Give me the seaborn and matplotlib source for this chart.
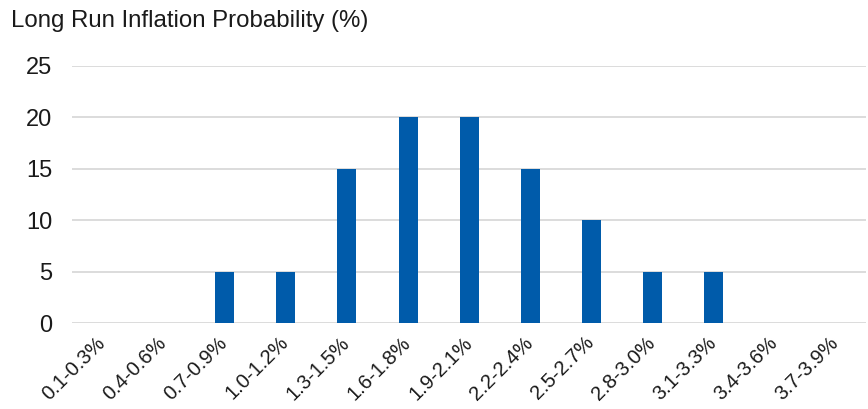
import pandas as pd
import numpy as np
import matplotlib
matplotlib.use("Agg")
import matplotlib.pyplot as plt
import seaborn as sns

# inflation buckets and probabilities
buckets = ["0.1-0.3%", "0.4-0.6%", "0.7-0.9%", "1.0-1.2%", "1.3-1.5%", "1.6-1.8%",
           "1.9-2.1%", "2.2-2.4%", "2.5-2.7%", "2.8-3.0%", "3.1-3.3%", "3.4-3.6%", "3.7-3.9%"]
probability = [0, 0, 5, 5, 15, 20, 20, 15, 10, 5, 5, 0, 0]
yticks = [0, 5, 10, 15, 20, 25]

df = pd.DataFrame({"Bucket": buckets, "Probability": probability})

sns.set_style("white")
plt.rcParams['font.family'] = ['Liberation Sans', 'DejaVu Sans']

fig = plt.figure(figsize=(8.68, 4.09), dpi=100)
ax = fig.add_axes([0.083, 0.21, 0.915, 0.629])

sns.barplot(data=df, x="Bucket", y="Probability", color="#005BAA", width=0.31,
            saturation=1, linewidth=0, ax=ax, zorder=3)

ax.set_ylim(0, 25)
ax.set_yticks(yticks)
ax.yaxis.grid(True, color="#d9d9d9", linewidth=1.3, zorder=0)
ax.set_axisbelow(True)
for s in ax.spines.values():
    s.set_visible(False)
ax.tick_params(axis="y", length=0, labelsize=17, colors="#1a1a1a", pad=14)
ax.tick_params(axis="x", length=0, labelsize=14.5, colors="#1a1a1a", pad=12)
plt.setp(ax.get_xticklabels(), rotation=45, ha="right", va="center",
         rotation_mode="anchor")
ax.set_xlabel("")
ax.set_ylabel("")

fig.text(0.013, 0.948, "Long Run Inflation Probability (%)", fontsize=17.3,
         color="#1a1a1a", va="center", ha="left")

fig.savefig("out.png", dpi=100)
